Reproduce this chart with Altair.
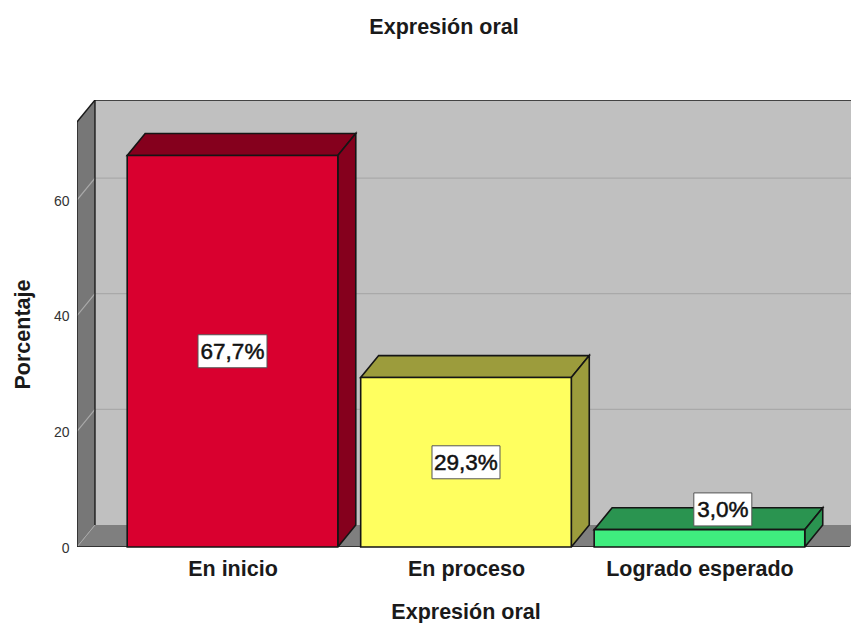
import altair as alt
import pandas as pd

FONT = "Liberation Sans"
categories = ["En inicio", "En proceso", "Logrado esperado"]
values = [67.7, 29.3, 3.0]
labels = ["67,7%", "29,3%", "3,0%"]
label_x = [1, 2, 3.1]
label_y = [33.85, 14.65, 6.5]
label_w = [69, 68, 58]
front = ["#d9002f", "#ffff5f", "#3fed7e"]
top = ["#85001d", "#9c9c3c", "#2a9450"]
side = ["#85001d", "#9c9c3c", "#2a9450"]
centers = [1, 2, 3]
half = 0.451
dx = 0.077
dy = 3.8
x_min, x_max = 0.334, 3.649
x_end = 3.644
y_top = 73.5
grid_vals = [20, 40, 60]
y_ticks = [0, 20, 40, 60]

X = alt.Scale(domain=[x_min, x_max], nice=False, zero=False)
Y = alt.Scale(domain=[0, 77.3], nice=False, zero=False)

X_AXIS = alt.Axis(
    values=centers,
    labelExpr="datum.value == 1 ? '%s' : datum.value == 2 ? '%s' : '%s'" % tuple(categories),
    domain=False,
    ticks=False,
    grid=False,
    labelFont=FONT,
    labelFontSize=21.5,
    labelFontWeight="bold",
    labelColor="#1a1a1a",
    labelPadding=11,
    labelOverlap=False,
    labelLimit=400,
    title="Expresión oral",
    titleFont=FONT,
    titleFontSize=21.5,
    titleFontWeight="bold",
    titleColor="#1a1a1a",
    titleX=388.5,
    titleY=71,
    titleBaseline="alphabetic",
    titleAnchor="middle",
)
Y_AXIS = alt.Axis(
    values=y_ticks,
    domain=False,
    ticks=False,
    grid=False,
    labelFont=FONT,
    labelFontSize=14,
    labelColor="#333333",
    labelPadding=8,
    labelOffset=1,
    format="d",
    title="Porcentaje",
    titleFont=FONT,
    titleFontSize=21.5,
    titleFontWeight="bold",
    titleColor="#1a1a1a",
    titleX=-48,
    titleY=234,
    titleBaseline="alphabetic",
    titleAnchor="middle",
)


def enc():
    return dict(
        x=alt.X("x:Q", scale=X, axis=X_AXIS),
        y=alt.Y("y:Q", scale=Y, axis=Y_AXIS),
    )


def parallelogram(x0, x1, v):
    return [
        dict(x=x0, y=v, y2=v),
        dict(x=x0 + dx, y=v, y2=v + dy),
        dict(x=x1, y=v, y2=v + dy),
        dict(x=x1 + dx, y=v + dy, y2=v + dy),
    ]


def side_face(x1, v):
    return [dict(x=x1, y=0, y2=v), dict(x=x1 + dx, y=dy, y2=v + dy)]


def area(rows, fill, stroke=None, sw=1.6):
    kw = dict(fill=fill, orient="vertical", clip=True, interpolate="linear", opacity=1)
    if stroke:
        kw.update(stroke=stroke, strokeWidth=sw)
    return alt.Chart(pd.DataFrame(rows)).mark_area(**kw).encode(
        y2=alt.Y2("y2:Q"), **enc()
    )


def line(points, color, sw=1.4):
    df = pd.DataFrame([dict(x=a, y=b, o=i) for i, (a, b) in enumerate(points)])
    return alt.Chart(df).mark_line(color=color, strokeWidth=sw, clip=True).encode(
        order="o:Q", **enc()
    )


wall_df = pd.DataFrame([dict(x=x_min + dx, x2=x_end + dx, y=dy, y2=y_top + dy)])
wall = alt.Chart(wall_df).mark_rect(fill="#c0c0c0", clip=True).encode(
    x2="x2:Q", y2="y2:Q", **enc()
)

layers = [wall]
layers.append(area([dict(x=x_min, y=0, y2=y_top), dict(x=x_min + dx, y=dy, y2=y_top + dy)], "#777777"))
layers.append(area(parallelogram(x_min, x_end, 0), "#7f7f7f"))

for g in grid_vals:
    layers.append(line([(x_min, g), (x_min + dx, g + dy), (x_max + 1, g + dy)], "#a9a9a9", 1.2))

layers.append(line([(x_min, 0), (x_min + dx, dy)], "#a8a8a8", 1))
layers.append(line([(x_min, y_top), (x_min + dx, y_top + dy)], "#1a1a1a"))
layers.append(line([(x_min + dx, y_top + dy), (x_max + 1, y_top + dy)], "#1a1a1a"))
layers.append(line([(x_min + dx, dy), (x_min + dx, y_top + dy)], "#1a1a1a"))
layers.append(line([(x_min, 0), (x_min, y_top)], "#1a1a1a"))
layers.append(line([(x_min, 0), (x_end, 0)], "#1a1a1a", 1.6))

for c, v, fc, tc, sc in zip(centers, values, front, top, side):
    x0, x1 = c - half, c + half
    layers.append(area(parallelogram(x0, x1, v), tc, "#151515"))
    layers.append(area(side_face(x1, v), sc, "#151515"))
    rect = pd.DataFrame([dict(x=x0, x2=x1, y=0, y2=v)])
    layers.append(
        alt.Chart(rect)
        .mark_rect(fill=fc, stroke="#151515", strokeWidth=1.6)
        .encode(x2="x2:Q", y2="y2:Q", **enc())
    )

lab = pd.DataFrame(dict(x=label_x, y=label_y, t=labels, w=label_w))
for _, r in lab.iterrows():
    one = pd.DataFrame([dict(x=r.x, y=r.y)])
    layers.append(
        alt.Chart(one)
        .mark_rect(width=int(r.w), height=33, fill="white", stroke="#555555", strokeWidth=1)
        .encode(**enc())
    )
layers.append(
    alt.Chart(lab)
    .mark_text(font=FONT, fontSize=22.5, color="#111111", stroke="#111111", strokeWidth=0.5, align="center", baseline="middle", dy=1)
    .encode(text="t:N", **enc())
)

chart = (
    alt.layer(*layers)
    .properties(
        width=774,
        height=447,
        title=alt.TitleParams(
            "Expresión oral",
            font=FONT,
            fontSize=21.5,
            fontWeight="bold",
            color="#1a1a1a",
            anchor="middle",
            dx=-20,
            offset=62,
        ),
        autosize=alt.AutoSizeParams(type="none"),
        padding={"left": 69, "top": 92, "right": 0, "bottom": 76},
    )
    .configure_view(stroke=None)
)

chart.save("out.html", embed_options={"renderer": "svg", "actions": False})
